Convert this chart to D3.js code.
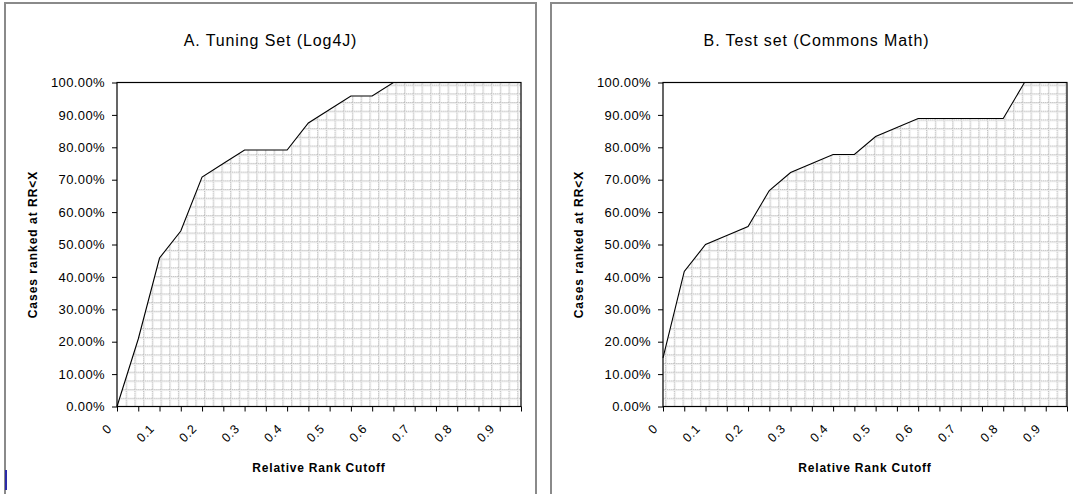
<!DOCTYPE html>
<html>
<head>
<meta charset="utf-8">
<script src="https://cdn.jsdelivr.net/npm/d3@7"></script>
<style>
  html, body { margin: 0; padding: 0; background: #fff; }
  svg { display: block; font-family: Arial, "Liberation Sans", sans-serif; }
</style>
</head>
<body>
<svg id="chart" width="1073" height="494"></svg>
<script>
// Relative rank cutoff categories (x axis)
const cutoffs = [0, 0.05, 0.1, 0.15, 0.2, 0.25, 0.3, 0.35, 0.4, 0.45,
                 0.5, 0.55, 0.6, 0.65, 0.7, 0.75, 0.8, 0.85, 0.9, 0.95];
// Cases ranked at RR<X, percent
const tuningCases = [0, 20.83, 45.83, 54.17, 70.83, 75, 79.17, 79.17, 79.17, 87.5,
                     91.67, 95.83, 95.83, 100, 100, 100, 100, 100, 100, 100];
const testCases = [15, 41.67, 50, 52.78, 55.56, 66.67, 72.22, 75, 77.78, 77.78,
                   83.33, 86.11, 88.89, 88.89, 88.89, 88.89, 88.89, 100, 100, 100];
const yTicks = [0, 10, 20, 30, 40, 50, 60, 70, 80, 90, 100];
const panelTitles = ["A. Tuning Set (Log4J)", "B. Test set (Commons Math)"];
const xTitle = "Relative Rank Cutoff";
const yTitle = "Cases ranked at RR<X";

const svg = d3.select("#chart");
const defs = svg.append("defs");

// Excel-like "dotted grid" fill pattern for the area
const cell = 8.7;
const pattern = defs.append("pattern")
  .attr("id", "gridfill")
  .attr("patternUnits", "userSpaceOnUse")
  .attr("width", cell)
  .attr("height", cell)
  .attr("x", 117)
  .attr("y", 406.5);
pattern.append("rect").attr("width", cell).attr("height", cell).attr("fill", "#fff");
pattern.append("rect").attr("x", 0).attr("y", 0).attr("width", 2).attr("height", cell).attr("fill", "#eeeeee");
pattern.append("rect").attr("x", 0).attr("y", 0).attr("width", cell).attr("height", 2).attr("fill", "#eeeeee");
pattern.append("line").attr("x1", 0.5).attr("y1", 0).attr("x2", 0.5).attr("y2", cell)
  .attr("stroke", "#bdbdbd").attr("stroke-width", 1).attr("stroke-dasharray", "1 1");
pattern.append("line").attr("x1", 0).attr("y1", 0.5).attr("x2", cell).attr("y2", 0.5)
  .attr("stroke", "#bdbdbd").attr("stroke-width", 1).attr("stroke-dasharray", "1 1");

drawPanel(5, panelTitles[0], tuningCases);
drawPanel(551, panelTitles[1], testCases);

// small blue mark at the lower left edge
svg.append("line")
  .attr("x1", 6).attr("y1", 470).attr("x2", 6).attr("y2", 490)
  .attr("stroke", "#2a2aa8").attr("stroke-width", 2);

function drawPanel(x0, title, values) {
  const g = svg.append("g");
  g.append("rect")
    .attr("x", x0).attr("y", 3)
    .attr("width", 531).attr("height", 540)
    .attr("fill", "#fff")
    .attr("stroke", "#8a8a8a")
    .attr("stroke-width", 2);

  const left = x0 + 112;
  const right = x0 + 516;
  const top = 82.5;
  const bottom = 406.5;

  const x = d3.scalePoint().domain(cutoffs).range([left, right]).padding(0);
  const y = d3.scaleLinear().domain([0, 100]).range([bottom, top]);

  const rows = cutoffs.map((c, i) => ({ c, v: values[i] }));

  const area = d3.area()
    .x((d) => x(d.c))
    .y0(bottom)
    .y1((d) => y(d.v));
  const line = d3.line()
    .x((d) => x(d.c))
    .y((d) => y(d.v));

  g.append("path")
    .datum(rows)
    .attr("d", area)
    .attr("fill", "url(#gridfill)");

  g.append("path")
    .datum(rows)
    .attr("d", line)
    .attr("fill", "none")
    .attr("stroke", "#000")
    .attr("stroke-width", 1.1);

  // plot frame
  g.append("rect")
    .attr("x", left).attr("y", top)
    .attr("width", right - left).attr("height", bottom - top)
    .attr("fill", "none")
    .attr("stroke", "#000")
    .attr("stroke-width", 1.2);

  const yAxis = g.append("g")
    .attr("transform", `translate(${left},0)`)
    .call(d3.axisLeft(y).tickValues(yTicks).tickSize(5).tickPadding(7)
      .tickFormat((d) => d.toFixed(2) + "%"));
  yAxis.select(".domain").remove();
  yAxis.selectAll("text")
    .attr("font-size", 13)
    .attr("letter-spacing", "0.4px")
    .attr("fill", "#000");

  const xAxis = g.append("g")
    .attr("transform", `translate(0,${bottom})`)
    .call(d3.axisBottom(x).tickSize(5)
      .tickFormat((d, i) => (i % 2 ? "" : String(d))));
  xAxis.select(".domain").remove();
  xAxis.selectAll("text")
    .attr("x", 0).attr("y", 0).attr("dy", "0.35em")
    .attr("text-anchor", "end")
    .attr("transform", "translate(-8,20) rotate(-45)")
    .attr("font-size", 12.5)
    .attr("letter-spacing", "0.5px")
    .attr("fill", "#000");

  g.append("text")
    .attr("x", x0 + 265.5).attr("y", 46)
    .attr("text-anchor", "middle")
    .attr("font-size", 16)
    .attr("letter-spacing", "0.9px")
    .text(title);

  g.append("text")
    .attr("x", (left + right) / 2).attr("y", 472)
    .attr("text-anchor", "middle")
    .attr("font-size", 12)
    .attr("font-weight", "bold")
    .attr("letter-spacing", "0.8px")
    .text(xTitle);

  g.append("text")
    .attr("transform", `translate(${x0 + 32},${(top + bottom) / 2}) rotate(-90)`)
    .attr("text-anchor", "middle")
    .attr("font-size", 12)
    .attr("font-weight", "bold")
    .attr("letter-spacing", "1px")
    .text(yTitle);
}
</script>
</body>
</html>
